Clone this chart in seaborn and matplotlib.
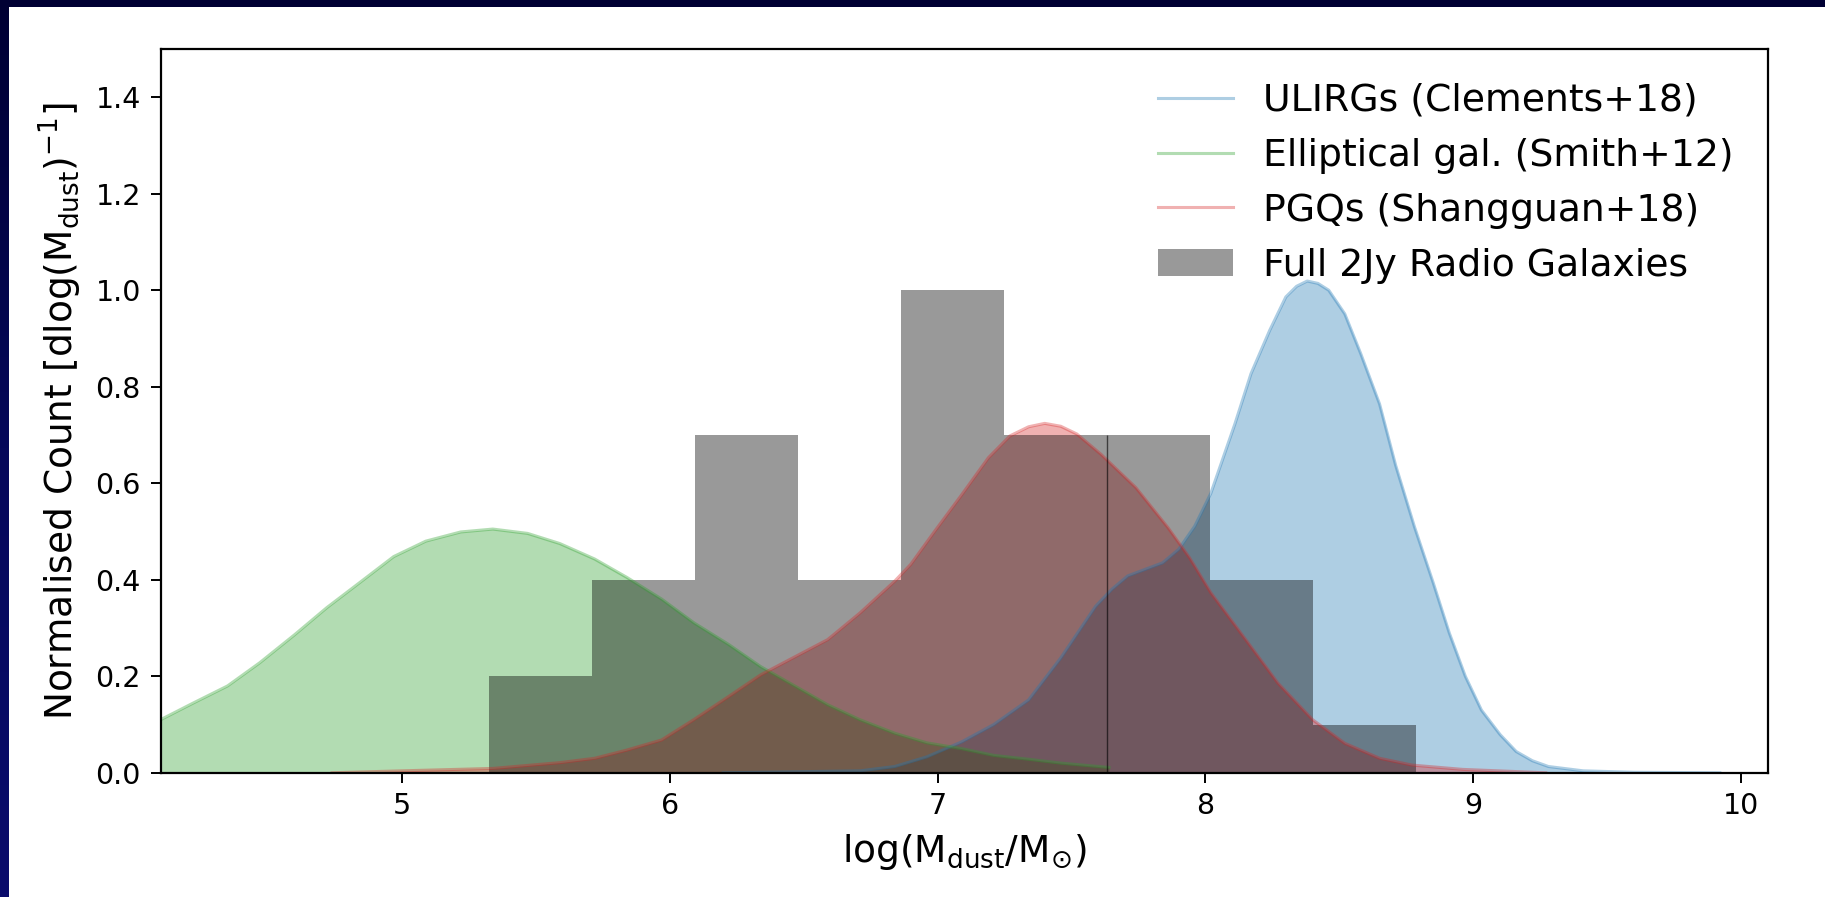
import numpy as np
import pandas as pd
import matplotlib
matplotlib.use("Agg")
import matplotlib.pyplot as plt
import seaborn as sns

# ── Data ──────────────────────────────────────────────────
# KDE curves (log Mdust, density)
ulirg_x = [6.20, 6.71, 6.84, 6.96, 7.09, 7.21, 7.34, 7.46, 7.59, 7.65, 7.71, 7.84,
           7.90, 7.96, 8.02, 8.11, 8.17, 8.24, 8.30, 8.34, 8.38, 8.42, 8.46, 8.52,
           8.58, 8.65, 8.71, 8.78, 8.85, 8.91, 8.97, 9.03, 9.10, 9.16, 9.22, 9.28,
           9.41, 9.60, 9.92]
ulirg_y = [0.000, 0.004, 0.013, 0.033, 0.064, 0.100, 0.151, 0.238, 0.345, 0.380, 0.408, 0.435,
           0.463, 0.511, 0.579, 0.723, 0.827, 0.917, 0.986, 1.008, 1.019, 1.014, 1.000, 0.951,
           0.868, 0.764, 0.637, 0.510, 0.394, 0.290, 0.200, 0.130, 0.079, 0.044, 0.025, 0.013,
           0.004, 0.001, 0.000]

ellip_x = [4.10, 4.22, 4.35, 4.47, 4.60, 4.72, 4.85, 4.97, 5.09, 5.22, 5.34, 5.47,
           5.59, 5.72, 5.84, 5.97, 6.09, 6.22, 6.34, 6.47, 6.59, 6.71, 6.84, 6.96,
           7.09, 7.21, 7.34, 7.46, 7.64]
ellip_y = [0.110, 0.144, 0.180, 0.228, 0.286, 0.342, 0.397, 0.448, 0.480, 0.499, 0.505, 0.496,
           0.475, 0.443, 0.405, 0.360, 0.311, 0.266, 0.220, 0.179, 0.141, 0.110, 0.082, 0.062,
           0.050, 0.036, 0.028, 0.020, 0.011]

pgq_x = [4.74, 5.00, 5.34, 5.59, 5.72, 5.84, 5.97, 6.09, 6.22, 6.34, 6.47, 6.59,
         6.71, 6.84, 6.90, 6.99, 7.09, 7.19, 7.27, 7.34, 7.40, 7.46, 7.52, 7.61,
         7.74, 7.86, 7.94, 8.02, 8.15, 8.27, 8.40, 8.52, 8.65, 8.77, 8.96, 9.27]
pgq_y = [0.000, 0.004, 0.009, 0.021, 0.030, 0.047, 0.068, 0.110, 0.158, 0.203, 0.241, 0.276,
         0.331, 0.397, 0.432, 0.501, 0.576, 0.653, 0.698, 0.717, 0.724, 0.718, 0.702, 0.660,
         0.591, 0.508, 0.446, 0.373, 0.276, 0.186, 0.110, 0.061, 0.030, 0.016, 0.007, 0.000]

# 2Jy histogram (normalised to the tallest bin)
hist_edges  = [5.325, 5.7095, 6.094, 6.4785, 6.863, 7.2475, 7.632, 8.0165, 8.401, 8.7855]
hist_height = [0.2, 0.4, 0.7, 0.4, 1.0, 0.7, 0.7, 0.4, 0.1]

LABELS = ["ULIRGs (Clements+18)", "Elliptical gal. (Smith+12)",
          "PGQs (Shangguan+18)", "Full 2Jy Radio Galaxies"]
COLORS = ["#1f77b4", "#2ca02c", "#d62728"]
ALPHA  = 0.36

plt.rcParams.update({
    "font.family"      : "DejaVu Sans",
    "mathtext.fontset" : "dejavusans",
    "axes.linewidth"   : 1.6,
})

fig = plt.figure(figsize=(18.25, 8.97), dpi=100)
fig.patch.set_facecolor("white")
ax = fig.add_axes([0.0880, 0.1385, 0.8808, 0.8070])

# ── KDE curves ────────────────────────────────────────────
curves = [(ulirg_x, ulirg_y), (ellip_x, ellip_y), (pgq_x, pgq_y)]
for (cx, cy), col, lab in zip(curves, COLORS, LABELS[:3]):
    ax.fill_between(cx, 0, cy, color=col, alpha=ALPHA, linewidth=0)
    sns.lineplot(x=cx, y=cy, color=col, alpha=ALPHA, lw=2.2, label=lab, ax=ax)

# ── Histogram on top ──────────────────────────────────────
centres = [0.5 * (a + b) for a, b in zip(hist_edges[:-1], hist_edges[1:])]
hist_df = pd.DataFrame({"mdust": centres, "norm": hist_height})
sns.histplot(data=hist_df, x="mdust", weights="norm", bins=hist_edges,
             color="k", alpha=0.4, linewidth=0, ax=ax, label=LABELS[3])
ax.vlines(hist_edges[6], 0, hist_height[5], color="k", lw=1.0, alpha=0.6)

# ── Axes styling ──────────────────────────────────────────
ax.set_xlim(4.1, 10.1)
ax.set_ylim(0, 1.5)
ax.set_xticks([5, 6, 7, 8, 9, 10])
ax.set_yticks(np.arange(0, 1.41, 0.2))
ax.yaxis.set_major_formatter(matplotlib.ticker.FormatStrFormatter("%.1f"))
ax.tick_params(labelsize=20.5, length=7.2, width=1.4, pad=7, direction="out")
for s in ax.spines.values():
    s.set_color("black")

ax.set_xlabel(r"log(M$_{\rm dust}$/M$_{\odot}$)", fontsize=27, labelpad=8)
ax.set_ylabel(r"Normalised Count [dlog(M$_{\rm dust}$)$^{-1}$]", fontsize=27, labelpad=8)

handles, labels = ax.get_legend_handles_labels()
order = [labels.index(l) for l in LABELS]
ax.legend([handles[i] for i in order], [labels[i] for i in order],
          loc="upper right", frameon=False, fontsize=27.2)

# ── Slide border (top + left strip) ───────────────────────
top = fig.add_axes([0, 1 - 6.7 / 897, 1, 6.7 / 897])
top.set_facecolor("#000033")
top.set_xticks([]); top.set_yticks([])
for s in top.spines.values():
    s.set_visible(False)
left = fig.add_axes([0, 0, 8.3 / 1825, 1])
grad = np.linspace(0, 1, 256).reshape(-1, 1)
left.imshow(grad, aspect="auto", origin="upper",
            cmap=matplotlib.colors.LinearSegmentedColormap.from_list(
                "navy", ["#000033", "#05085a", "#0a0c6c"]))
left.axis("off")

fig.savefig("out.png", dpi=100)
plt.close()
